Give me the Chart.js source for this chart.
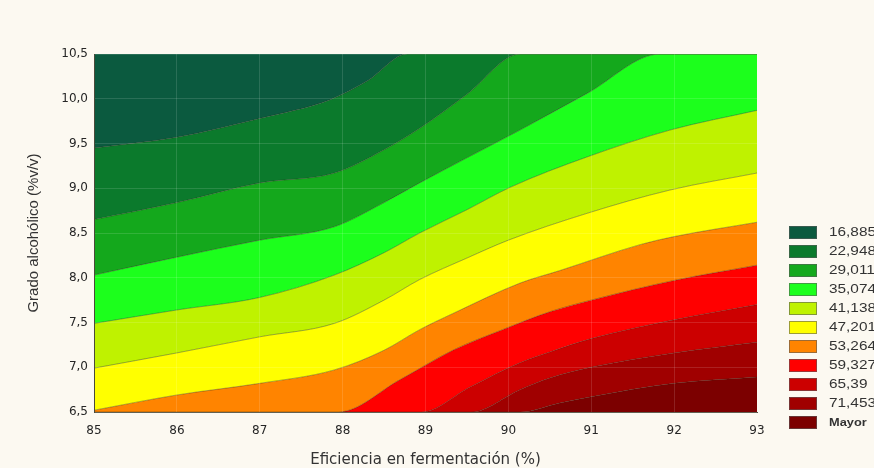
<!DOCTYPE html>
<html>
<head>
<meta charset="utf-8">
<script src="https://cdn.jsdelivr.net/npm/chart.js@4.4.1/dist/chart.umd.min.js"></script>
<style>
  html, body { margin: 0; padding: 0; background: #fcf9f1; }
  #wrap { width: 874px; height: 468px; }
</style>
</head>
<body>
<div id="wrap"><canvas id="myChart" width="874" height="468"></canvas></div>
<script>
'use strict';

// Niveles del mapa de contorno (leyenda)
var niveles = ['16,885', '22,948', '29,011', '35,074', '41,138', '47,201', '53,264', '59,327', '65,39', '71,453', 'Mayor'];
var colores = ['#0b5a3f', '#0b7a2c', '#14a81c', '#1cff1c', '#bff200', '#ffff00', '#ff8400', '#ff0000', '#cc0000', '#a00000', '#7c0000'];

// Etiquetas de los ejes
var xTicks = ['85', '86', '87', '88', '89', '90', '91', '92', '93'];
var yTicks = ['6,5', '7,0', '7,5', '8,0', '8,5', '9,0', '9,5', '10,0', '10,5'];

// Curvas de nivel [eficiencia, grado]
var iso16885 = [[85, 9.45], [86, 9.57], [87, 9.78], [87.85, 9.99], [88.3, 10.2], [88.78, 10.5], [93, 10.5]];
var iso22948 = [[85, 8.65], [86, 8.84], [87, 9.06], [87.9, 9.17], [88.5, 9.43], [88.93, 9.67], [89.5, 10.05], [90.14, 10.5], [93, 10.5]];
var iso29011 = [[85, 8.03], [86, 8.23], [87, 8.42], [87.9, 8.57], [88.5, 8.84], [88.93, 9.06], [89.5, 9.34], [90.14, 9.65], [90.95, 10.06], [91.83, 10.5], [93, 10.5]];
var iso35074 = [[85, 7.49], [86, 7.64], [87, 7.78], [87.9, 8.03], [88.5, 8.28], [88.93, 8.5], [89.5, 8.76], [90.02, 9.01], [90.95, 9.35], [91.95, 9.65], [93, 9.87]];
var iso41138 = [[85, 6.99], [86, 7.16], [87, 7.34], [87.9, 7.49], [88.5, 7.75], [88.93, 7.98], [89.5, 8.22], [90, 8.42], [90.95, 8.72], [91.95, 8.98], [93, 9.17]];
var iso47201 = [[85, 6.52], [86, 6.69], [87, 6.82], [87.9, 6.97], [88.5, 7.19], [88.93, 7.42], [89.33, 7.6], [90.14, 7.94], [90.62, 8.08], [91.59, 8.37], [92, 8.46], [93, 8.62]];
var iso53264 = [[85, 6.5], [87.95, 6.5], [88.69, 6.86], [89.33, 7.19], [89.93, 7.42], [90.5, 7.62], [91, 7.75], [92, 7.97], [93, 8.14]];
var iso59327 = [[85, 6.5], [88.95, 6.5], [89.54, 6.78], [90.14, 7.05], [90.5, 7.17], [91, 7.32], [92, 7.53], [93, 7.7]];
var iso6539 = [[85, 6.5], [89.55, 6.5], [90.14, 6.75], [90.5, 6.88], [91, 7.0], [92, 7.16], [93, 7.28]];
var iso71453 = [[85, 6.5], [90.15, 6.5], [90.62, 6.6], [91, 6.67], [92, 6.82], [93, 6.89]];

var curvas = [iso16885, iso22948, iso29011, iso35074, iso41138, iso47201, iso53264, iso59327, iso6539, iso71453];

function puntos(arr) {
  return arr.map(function (p) { return { x: p[0], y: p[1] }; });
}

// cada banda se rellena entre su curva y la anterior
var datasets = curvas.map(function (c, i) {
  return {
    label: niveles[i],
    data: puntos(c),
    fill: i === 0 ? 'end' : '-1',
    backgroundColor: colores[i],
    borderColor: 'rgba(40,40,20,0.55)',
    borderWidth: 0.7,
    pointRadius: 0,
    cubicInterpolationMode: 'monotone'
  };
});
// banda "Mayor": debajo de la ultima curva
datasets.push({
  label: niveles[10],
  data: puntos(iso71453),
  fill: 'start',
  backgroundColor: colores[10],
  borderWidth: 0,
  pointRadius: 0,
  cubicInterpolationMode: 'monotone'
});

// leyenda dibujada a mano a la derecha
var leyenda = {
  id: 'leyenda',
  afterDraw: function (chart) {
    var c = chart.ctx;
    var x0 = chart.chartArea.right + 32;
    c.save();
    c.textBaseline = 'middle';
    c.textAlign = 'left';
    for (var i = 0; i < niveles.length; i++) {
      var y = 226 + i * 19;
      c.fillStyle = colores[i];
      c.fillRect(x0, y, 28, 13);
      c.strokeStyle = 'rgba(90,90,90,0.6)';
      c.lineWidth = 1;
      c.strokeRect(x0 + 0.5, y + 0.5, 27, 12);
      c.fillStyle = '#333';
      c.font = i === niveles.length - 1 ? 'bold 10px "Liberation Sans", Arial, sans-serif' : '12px "Liberation Sans", Arial, sans-serif';
      // el texto de la figura original sale ensanchado
      c.save();
      c.translate(x0 + 40, y + 7);
      c.scale(1.28, 1);
      c.fillText(niveles[i], 0, 0);
      c.restore();
    }
    c.restore();
  }
};

var ctx = document.getElementById('myChart').getContext('2d');
var chart = new Chart(ctx, {
  type: 'line',
  data: { datasets: datasets },
  plugins: [leyenda],
  options: {
    responsive: false,
    animation: false,
    layout: { padding: { left: 22, right: 117, top: 54, bottom: 0 } },
    plugins: {
      legend: { display: false },
      tooltip: { enabled: false }
    },
    scales: {
      x: {
        type: 'linear',
        min: 85,
        max: 93,
        afterFit: function (scale) { scale.height = 56; },
        ticks: {
          stepSize: 1,
          padding: 12,
          color: '#262626',
          font: { family: 'DejaVu Sans', size: 12 },
          callback: function (v, i) { return xTicks[i]; }
        },
        grid: { z: 1, drawTicks: false, color: 'rgba(255,255,255,0.13)' },
        border: { z: 1, color: '#4a4a3a', width: 1 },
        title: {
          display: true,
          text: 'Eficiencia en fermentación (%)',
          color: '#333',
          font: { family: 'DejaVu Sans', size: 15, lineHeight: 1 },
          padding: { top: 4, bottom: 0 }
        }
      },
      y: {
        type: 'linear',
        min: 6.5,
        max: 10.5,
        afterFit: function (scale) { scale.width = 72; },
        ticks: {
          stepSize: 0.5,
          padding: 6,
          color: '#262626',
          font: { family: 'DejaVu Sans', size: 12 },
          callback: function (v, i) { return yTicks[i]; }
        },
        grid: { z: 1, drawTicks: false, color: 'rgba(255,255,255,0.13)' },
        border: { z: 1, color: '#4a4a3a', width: 1 },
        title: {
          display: true,
          text: 'Grado alcohólico (%v/v)',
          color: '#333',
          font: { family: 'Liberation Sans', size: 15, lineHeight: 1 },
          padding: { top: 4, bottom: 4 }
        }
      }
    }
  }
});
</script>
</body>
</html>
